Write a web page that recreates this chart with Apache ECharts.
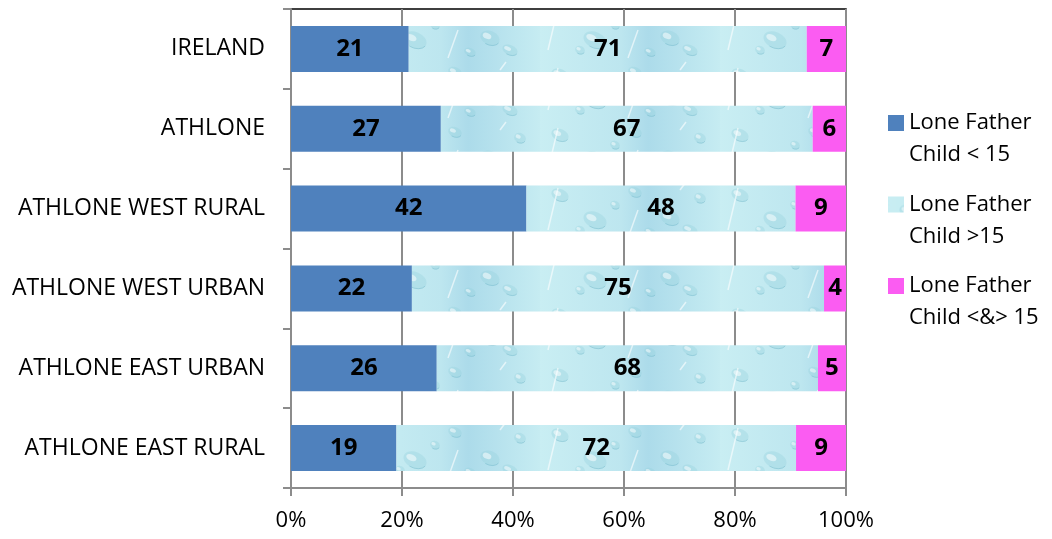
<!DOCTYPE html>
<html>
<head>
<meta charset="utf-8">
<script src="https://cdn.jsdelivr.net/npm/echarts@6/dist/echarts.min.js"></script>
<style>
html,body{margin:0;padding:0;background:#fff;}
#chart{width:1052px;height:539px;}
</style>
</head>
<body>
<div id="chart"></div>
<script>
const categories = ['IRELAND','ATHLONE','ATHLONE WEST RURAL','ATHLONE WEST URBAN','ATHLONE EAST URBAN','ATHLONE EAST RURAL'];
const seriesNames = ['Lone Father\nChild < 15','Lone Father\nChild >15','Lone Father\nChild <&> 15'];
const under15 = [21,27,42,22,26,19];
const over15 = [71,67,48,75,68,72];
const both15 = [7,6,9,4,5,9];
const xTicks = [0,20,40,60,80,100];

const FONT = 'Open Sans';

// water-droplet-like texture for the middle series
function makePattern(){
  const c = document.createElement('canvas');
  c.width = 180; c.height = 60;
  const g = c.getContext('2d');
  const grd = g.createLinearGradient(0,0,180,0);
  grd.addColorStop(0,'#c9eef3');
  grd.addColorStop(0.45,'#bde6ef');
  grd.addColorStop(0.6,'#acdbea');
  grd.addColorStop(1,'#c6ecf2');
  g.fillStyle = grd; g.fillRect(0,0,180,60);
  const drops = [[20,15,9,6],[55,40,12,8],[95,12,7,5],[130,38,10,7],[160,18,6,5],[40,50,5,4],[110,52,6,4],[75,25,5,4],[150,50,8,5]];
  drops.forEach(function(d){
    g.beginPath(); g.ellipse(d[0],d[1],d[2],d[3],0.4,0,Math.PI*2);
    g.fillStyle='rgba(150,210,222,0.35)'; g.fill();
    g.beginPath(); g.ellipse(d[0]-d[2]*0.3,d[1]-d[3]*0.3,d[2]*0.45,d[3]*0.4,0.4,0,Math.PI*2);
    g.fillStyle='rgba(255,255,255,0.5)'; g.fill();
    g.beginPath(); g.ellipse(d[0],d[1],d[2],d[3],0.4,0.2,1.8);
    g.strokeStyle='rgba(100,175,195,0.4)'; g.lineWidth=1; g.stroke();
  });
  g.strokeStyle='rgba(255,255,255,0.6)'; g.lineWidth=1.5;
  [[8,50,18,8],[88,58,98,30],[140,10,146,2]].forEach(function(l){g.beginPath();g.moveTo(l[0],l[1]);g.lineTo(l[2],l[3]);g.stroke();});
  return c;
}
const pattern = {image: makePattern(), repeat: 'repeat'};
const colors = ['#4f81bd', pattern, '#fb5cf2'];
const raw = [under15, over15, both15];
const totals = categories.map(function(_,i){return under15[i]+over15[i]+both15[i];});

const legendIcon = 'path://M0,0h16v16h-16zM0,47.9h0.05v0.05h-0.05z';

const chart = echarts.init(document.getElementById('chart'), null, {renderer:'canvas'});
chart.setOption({
  animation: false,
  backgroundColor: '#fff',
  grid: {left: 291, right: 206, top: 9, bottom: 51, show: true, borderColor: '#000', borderWidth: 1.5, backgroundColor: 'transparent'},
  legend: {
    orient: 'vertical', left: 888, top: 107, padding: 0, itemWidth: 16, itemHeight: 48, itemGap: 17.5,
    icon: legendIcon,
    textStyle: {fontFamily: FONT, fontSize: 22, color: '#000', lineHeight: 32},
    data: seriesNames
  },
  xAxis: {
    type: 'value', min: 0, max: 100, interval: 20,
    axisLine: {show: true, lineStyle: {color: '#8c8c8c', width: 2}},
    axisTick: {show: true, length: 8, lineStyle: {color: '#8c8c8c', width: 2}},
    splitLine: {show: true, lineStyle: {color: '#8c8c8c', width: 2}},
    axisLabel: {formatter: '{value}%', fontFamily: FONT, fontSize: 22, color: '#000', margin: 22,
      customValues: xTicks}
  },
  yAxis: {
    type: 'category', data: categories, inverse: true,
    axisLine: {show: true, lineStyle: {color: '#8c8c8c', width: 2}},
    axisTick: {show: true, length: 8, lineStyle: {color: '#8c8c8c', width: 2}},
    axisLabel: {fontFamily: FONT, fontSize: 23, color: '#000', margin: 26, padding: [3,0,0,0]}
  },
  series: seriesNames.map(function(name, s){
    return {
      name: name, type: 'bar', stack: 'total', barWidth: 46,
      itemStyle: {color: colors[s]},
      label: {show: true, position: 'inside', fontFamily: FONT, fontWeight: 'bold', fontSize: 24, color: '#000',
        formatter: function(p){ return raw[s][p.dataIndex]; }},
      data: raw[s].map(function(v,i){ return v / totals[i] * 100; })
    };
  })
});
</script>
</body>
</html>
